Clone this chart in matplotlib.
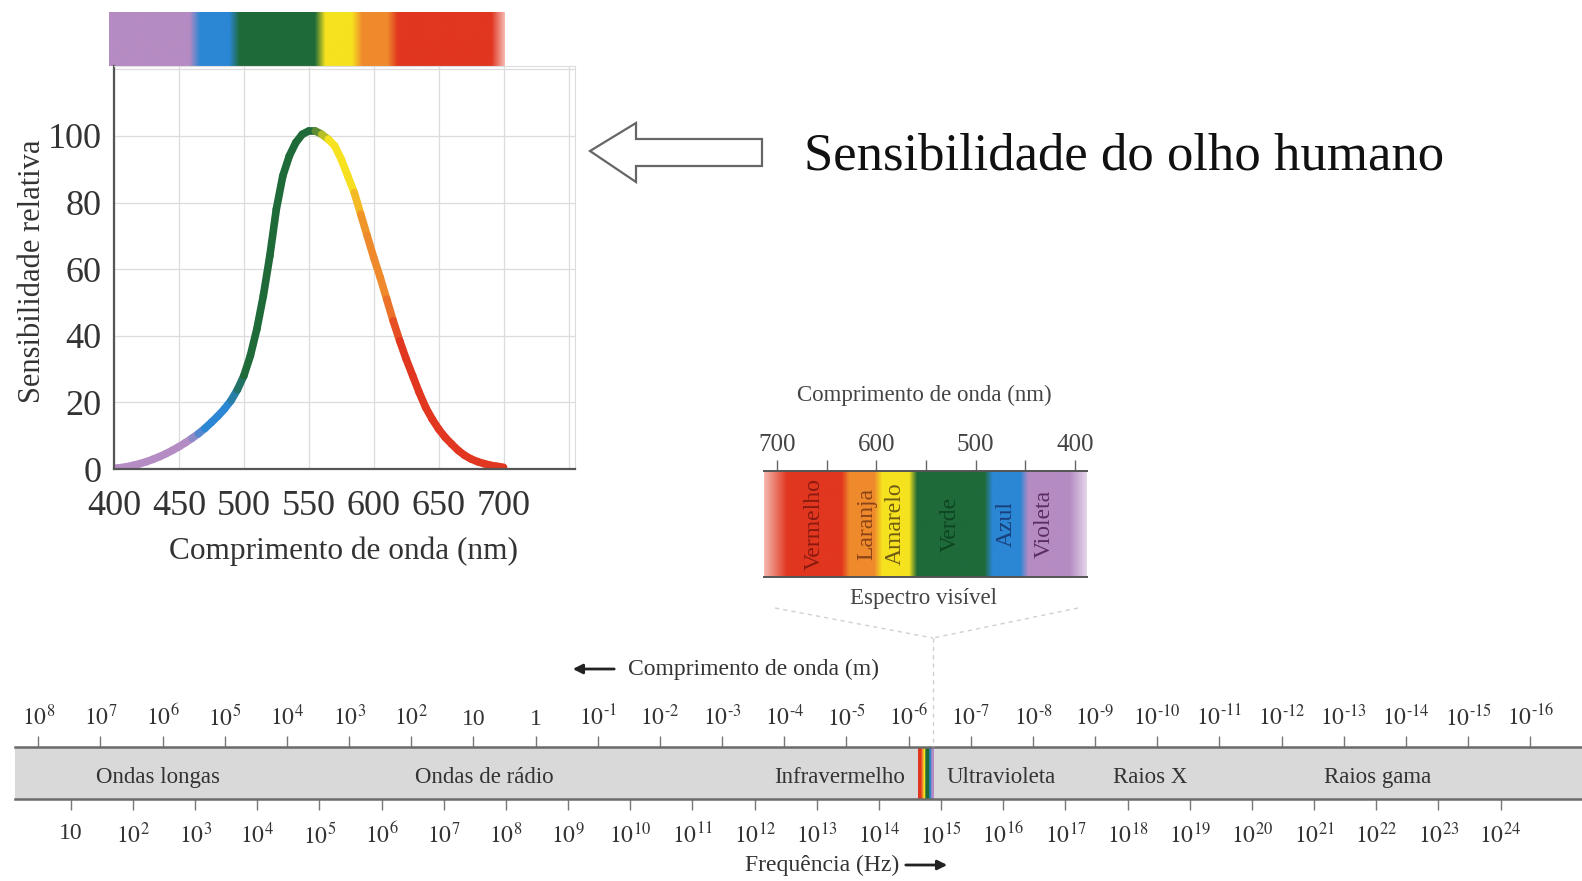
import matplotlib
matplotlib.use('Agg')

import matplotlib.pyplot as plt
import matplotlib.patches as mpatches
from matplotlib.collections import LineCollection
from matplotlib.colors import to_rgb
from matplotlib.lines import Line2D
import numpy as np

plt.rcParams['font.family'] = ['Liberation Serif', 'DejaVu Serif']
plt.rcParams['mathtext.fontset'] = 'stix'

W, H = 1582, 881

# Curva de sensibilidade do olho
comprimento_nm = [400, 405, 410, 415, 420, 425, 430, 435, 440, 445, 450, 455, 460, 465,
                  470, 475, 480, 485, 490, 495, 500, 505, 510, 515, 520, 525, 530, 535,
                  540, 545, 550, 555, 560, 565, 570, 575, 580, 585, 590, 595, 600, 605,
                  610, 615, 620, 625, 630, 635, 640, 645, 650, 655, 660, 665, 670, 675,
                  680, 685, 690, 695, 700]
sensibilidade = [0.2, 0.4, 0.7, 1.1, 1.6, 2.2, 2.9, 3.7, 4.6, 5.6, 6.7, 7.9, 9.2, 10.6,
                 12.2, 14.0, 15.9, 18.0, 20.5, 23.8, 28.0, 34.0, 42.0, 52.0, 64.0, 78.0,
                 88.0, 94.0, 98.0, 100.5, 101.5, 101.5, 100.5, 99.0, 97.0, 93.0, 88.0,
                 83.0, 76.5, 70.0, 63.5, 57.5, 51.0, 44.5, 38.5, 33.0, 28.0, 23.0, 18.5,
                 15.0, 12.0, 9.5, 7.5, 5.6, 4.1, 3.0, 2.2, 1.6, 1.1, 0.8, 0.5]

# Faixas de cor do espectro visivel
cores_nomes = ["Violeta", "Azul", "Verde", "Amarelo", "Laranja", "Vermelho"]
cores_hex = ["#b58bc3", "#2b86d4", "#1f6a39", "#f6e21f", "#ef8a2c", "#e1361f"]
cores_texto = ["#5b2c62", "#17407a", "#0d4522", "#6e5a12", "#8a4418", "#8a1a10"]
limites_curva = [400, 465, 495, 560, 588, 615, 700]
limites_caixa = [405, 451, 487, 563, 598, 631, 690]
rotulos_caixa_nm = [431, 469, 526, 581, 610, 662]
ticks_caixa = [700, 650, 600, 550, 500, 450, 400]

# Espectro eletromagnetico
expoentes_onda = list(range(8, -17, -1))
expoentes_freq = list(range(1, 25))
regioes = ["Ondas longas", "Ondas de rádio", "Infravermelho",
           "Ultravioleta", "Raios X", "Raios gama"]
regioes_log_freq = [2.41, 7.65, 13.37, 15.96, 18.37, 22.02]
c_luz = 2.998e8


def fx(x):
    return x / W


def fy(y):
    return 1 - y / H


def cor(lam, limites, cores, borda=3.0):
    lam = np.asarray(lam, dtype=float)
    rgb = np.array([to_rgb(c) for c in cores])
    xs, cs = [], []
    for i in range(len(cores)):
        xs += [limites[i] + borda, limites[i + 1] - borda]
        cs += [rgb[i], rgb[i]]
    xs[0], xs[-1] = limites[0], limites[-1]
    cs = np.array(cs)
    return np.stack([np.interp(lam, xs, cs[:, k]) for k in range(3)], axis=-1)


def desbotar(img, lam, a, b, lado):
    # mistura com branco perto das pontas
    t = np.clip((lam - a) / (b - a), 0, 1)
    if lado == 'dir':
        t = 1 - t
    t = 0.35 + 0.65 * t
    return img * t[..., None] + (1 - t[..., None])


fig = plt.figure(figsize=(W / 100, H / 100), dpi=100)
fig.patch.set_facecolor('white')

# ---- barra de cores superior ----
axb = fig.add_axes([fx(109), fy(66), fx(396), 54 / H])
lam_b = np.linspace(400, 700, 600)
img_b = cor(lam_b, limites_curva, cores_hex, borda=4)
img_b = np.where((lam_b > 690)[:, None], desbotar(img_b, lam_b, 690, 700, 'dir'), img_b)
axb.imshow(img_b[None, :, :], extent=[400, 700, 0, 1], aspect='auto')
axb.set_xlim(400, 700)
axb.axis('off')

# ---- curva de sensibilidade ----
ax = fig.add_axes([fx(114), fy(469), fx(575 - 114), 403 / H])
ax.set_xlim(400, 755)
ax.set_ylim(0, 121)
x = np.array(comprimento_nm)
y = np.array(sensibilidade)
pts = np.column_stack([x, y]).reshape(-1, 1, 2)
segs = np.concatenate([pts[:-1], pts[1:]], axis=1)
meio = (x[:-1] + x[1:]) / 2
lc = LineCollection(segs, colors=cor(meio, limites_curva, cores_hex, borda=6),
                    linewidths=5.5, capstyle='round', joinstyle='round')
ax.add_collection(lc)
ax.set_xticks([400, 450, 500, 550, 600, 650, 700])
ax.set_yticks([0, 20, 40, 60, 80, 100])
ax.set_xticks([750], minor=True)
ax.set_yticks([120], minor=True)
ax.grid(True, which='both', color='#dcdcdc', lw=0.9)
ax.tick_params(which='both', length=0, labelsize=26, labelcolor='#333333')
ax.tick_params(axis='x', pad=15)
ax.tick_params(axis='y', pad=9)
for s in ['left', 'bottom']:
    ax.spines[s].set_color('#555555')
    ax.spines[s].set_linewidth(1.6)
for s in ['top', 'right']:
    ax.spines[s].set_color('#dcdcdc')
ax.set_ylabel('Sensibilidade relativa', fontsize=22, color='#333333')
ax.yaxis.set_label_coords(-0.145, 0.49)
ax.set_xlabel('Comprimento de onda (nm)', fontsize=22.5, color='#333333')
ax.xaxis.set_label_coords(0.497, -0.168)

# seta vazada e titulo
seta = [(590, 151), (636, 123), (636, 139), (762, 139), (762, 166),
        (636, 166), (636, 182)]
fig.add_artist(mpatches.Polygon([(fx(a), fy(b)) for a, b in seta], closed=True,
                                transform=fig.transFigure, facecolor='white',
                                edgecolor='#666666', lw=1.6))
fig.text(fx(804), fy(156), 'Sensibilidade do olho humano', fontsize=38,
         ha='left', va='center', color='#111111')

# ---- caixa do espectro visivel ----
ax2 = fig.add_axes([fx(764), fy(577), fx(323), 106 / H])
lam_c = np.linspace(713, 388, 700)
img_c = cor(lam_c, limites_caixa, cores_hex, borda=4)
img_c = np.where((lam_c > 690)[:, None], desbotar(img_c, lam_c, 713, 690, 'esq'), img_c)
img_c = np.where((lam_c < 405)[:, None], desbotar(img_c, lam_c, 388, 405, 'esq'), img_c)
ax2.imshow(img_c[None, :, :], extent=[713, 388, 0, 1], aspect='auto')
ax2.set_xlim(713, 388)
ax2.set_ylim(0, 1)
ax2.set_yticks([])
ax2.xaxis.tick_top()
ax2.set_xticks(ticks_caixa, labels=[str(t) if t % 100 == 0 else '' for t in ticks_caixa])
ax2.tick_params(axis='x', direction='out', length=8, width=1, color='#666666',
                labelsize=18, labelcolor='#444444', pad=3)
for s in ['left', 'right']:
    ax2.spines[s].set_visible(False)
for s in ['top', 'bottom']:
    ax2.spines[s].set_color('#555555')
    ax2.spines[s].set_linewidth(1.4)
for nome, pos, ct in zip(cores_nomes, rotulos_caixa_nm, cores_texto):
    ax2.text(pos, 0.5, nome, rotation=90, ha='center', va='center',
             fontsize=17, color=ct)
ax2.text(0.495, 1.71, 'Comprimento de onda (nm)', transform=ax2.transAxes,
         ha='center', va='center', fontsize=16.5, color='#444444')
ax2.text(0.495, -0.2, 'Espectro visível', transform=ax2.transAxes,
         ha='center', va='center', fontsize=16.5, color='#444444')

# linhas pontilhadas ligando a caixa a barra
for (a, b), (c, d) in [((775, 608), (933, 638)), ((1078, 608), (933, 638)),
                       ((933, 638), (933, 747))]:
    fig.add_artist(Line2D([fx(a), fx(c)], [fy(b), fy(d)], transform=fig.transFigure,
                          color='#d0d0d0', lw=1, ls=(0, (3, 3))))

# ---- barra do espectro eletromagnetico ----
ax3 = fig.add_axes([fx(15), fy(799), 1 - fx(15), 52 / H])
ax3.set_xlim(0.102, 25.31)
ax3.set_ylim(0, 1)
ax3.set_facecolor('#d9d9d9')
ax3.set_yticks([])
for s in ['left', 'right']:
    ax3.spines[s].set_visible(False)
for s in ['top', 'bottom']:
    ax3.spines[s].set_color('#6a6a6a')
    ax3.spines[s].set_linewidth(1.8)

# faixa visivel dentro da barra
lam_v = np.linspace(700, 400, 200)
img_v = cor(lam_v, limites_caixa, cores_hex, borda=3)
ax3.imshow(img_v[None, :, :], aspect='auto',
           extent=[np.log10(c_luz / 700e-9), np.log10(c_luz / 400e-9), 0, 1])
ax3.set_xlim(0.102, 25.31)
ax3.set_ylim(0, 1)

ax3.set_xticks(expoentes_freq,
               labels=['10' if n == 1 else '$10^{%d}$' % n for n in expoentes_freq])
ax3.tick_params(axis='x', direction='out', length=8, width=1, color='#777777',
                labelsize=17, labelcolor='#333333', pad=9)

lc_log = np.log10(c_luz)
sec = ax3.secondary_xaxis('top', functions=(lambda v: lc_log - v, lambda v: lc_log - v))


def rot_onda(k):
    if k == 1:
        return '10'
    if k == 0:
        return '1'
    if k < 0:
        return r'$10^{\text{-}%d}$' % (-k)
    return '$10^{%d}$' % k


sec.set_xticks(expoentes_onda, labels=[rot_onda(k) for k in expoentes_onda])
sec.tick_params(axis='x', direction='out', length=8, width=1, color='#777777',
                labelsize=17, labelcolor='#333333', pad=4)
sec.spines['top'].set_visible(False)

for nome, pos in zip(regioes, regioes_log_freq):
    ax3.text(pos, 0.42, nome, ha='center', va='center', fontsize=16.5, color='#333333')

# setas de comprimento de onda e frequencia
fig.add_artist(mpatches.FancyArrowPatch((fx(617), fy(669)), (fx(570), fy(669)),
                                        transform=fig.transFigure, arrowstyle='-|>',
                                        mutation_scale=14, color='#222222', lw=2))
fig.text(fx(628), fy(669), 'Comprimento de onda (m)', fontsize=17,
         ha='left', va='center', color='#333333')
fig.text(fx(745), fy(865), 'Frequência (Hz)', fontsize=17,
         ha='left', va='center', color='#333333')
fig.add_artist(mpatches.FancyArrowPatch((fx(903), fy(865)), (fx(950), fy(865)),
                                        transform=fig.transFigure, arrowstyle='-|>',
                                        mutation_scale=14, color='#222222', lw=2))

fig.savefig('out.png', dpi=100, facecolor='white')
